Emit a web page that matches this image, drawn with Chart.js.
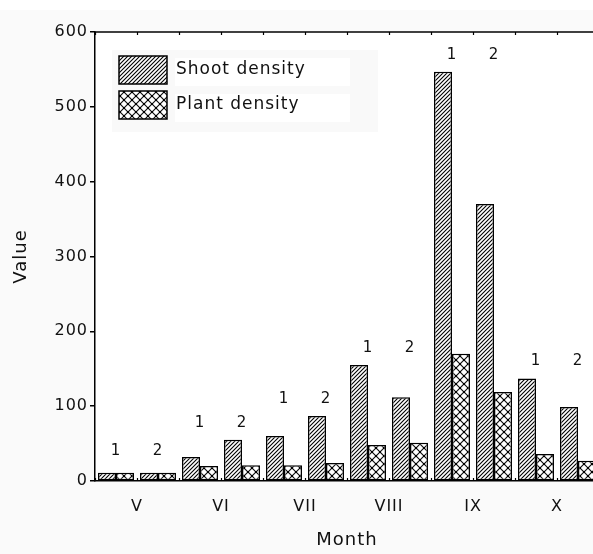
<!DOCTYPE html>
<html><head><meta charset="utf-8">
<script src="https://cdn.jsdelivr.net/npm/chart.js@4"></script>
<style>html,body{margin:0;padding:0;overflow:hidden;background:#fafafa}#wrap{width:610px;height:554px}</style>
</head><body><div id="wrap"><canvas id="c" width="610" height="554"></canvas></div>
<script>
// ---- data ----
const months = ['V','VI','VII','VIII','IX','X'];
const sites = ['1','2'];
const categories = months.flatMap(m => sites.map(s => m + '-' + s));
const shootDensity = [11,11,32,55,60,87,155,112,547,370,137,99];
const plantDensity = [11,11,20,21,21,24,48,51,170,119,36,27];
const seriesNames = ['Shoot density','Plant density'];

const FONT = 'DejaVu Sans';

function diagPattern(){
  const c = document.createElement('canvas'); c.width = 4; c.height = 4;
  const g = c.getContext('2d');
  g.fillStyle = '#fff'; g.fillRect(0,0,4,4);
  g.strokeStyle = '#000'; g.lineWidth = 1.1;
  g.beginPath();
  g.moveTo(-1,5); g.lineTo(5,-1);
  g.moveTo(-1,1); g.lineTo(1,-1);
  g.moveTo(3,5); g.lineTo(5,3);
  g.stroke();
  return g.createPattern(c,'repeat');
}
function crossPattern(){
  const s = 8;
  const c = document.createElement('canvas'); c.width = s; c.height = s;
  const g = c.getContext('2d');
  g.fillStyle = '#fff'; g.fillRect(0,0,s,s);
  g.strokeStyle = '#111'; g.lineWidth = 1.2;
  g.beginPath();
  g.moveTo(0,0); g.lineTo(s,s);
  g.moveTo(s,0); g.lineTo(0,s);
  g.stroke();
  g.fillStyle = '#000';
  g.fillRect(s/2-1,s/2-1,2,2);
  g.fillRect(-1,-1,2,2); g.fillRect(s-1,-1,2,2); g.fillRect(-1,s-1,2,2); g.fillRect(s-1,s-1,2,2);
  return g.createPattern(c,'repeat');
}
const pats = [diagPattern(), crossPattern()];

const decor = {
  id:'decor',
  beforeDraw(chart){
    const {ctx, chartArea:a} = chart;
    ctx.letterSpacing = '1px';
    ctx.save();
    ctx.fillStyle = '#fff';
    ctx.fillRect(0, 0, chart.width, 10);
    ctx.fillRect(a.left, a.top, a.right - a.left, a.bottom - a.top);
    ctx.restore();
  },
  afterDraw(chart){
    const {ctx, chartArea:a} = chart;
    const xs = chart.scales.x, ys = chart.scales.y;
    const cw = xs.width / categories.length;
    ctx.save();
    ctx.letterSpacing = '1px';
    ctx.strokeStyle = '#000'; ctx.lineWidth = 1.5;
    ctx.beginPath(); ctx.moveTo(a.left, a.top); ctx.lineTo(a.right, a.top); ctx.stroke();
    ctx.lineWidth = 1.2;
    for (let i = 0; i <= categories.length; i++){
      const x = Math.round(xs.getPixelForValue(i) - cw/2) + 0.5;
      ctx.beginPath(); ctx.moveTo(x, a.top); ctx.lineTo(x, a.top + 3); ctx.stroke();
      ctx.beginPath(); ctx.moveTo(x, a.bottom); ctx.lineTo(x, a.bottom - 3); ctx.stroke();
    }
    // group labels
    ctx.fillStyle = '#111';
    ctx.font = '15px "' + FONT + '"';
    ctx.textAlign = 'center'; ctx.textBaseline = 'middle';
    for (let m = 0; m < months.length; m++){
      const idx = [2*m, 2*m+1];
      const mx = Math.max(...idx.map(i => Math.max(shootDensity[i], plantDensity[i])));
      const y = Math.min(ys.getPixelForValue(mx) - 17, ys.getPixelForValue(40));
      idx.forEach(i => ctx.fillText(sites[i % 2], xs.getPixelForValue(i), y));
    }
    // legend
    const lx = a.left + 18, ly = a.top + 18;
    ctx.fillStyle = '#f9f9f9';
    ctx.fillRect(a.left + 17, a.top + 18, 266, 82);
    ctx.fillStyle = '#fff';
    ctx.fillRect(a.left + 80, a.top + 26, 175, 28);
    ctx.fillRect(a.left + 80, a.top + 62, 175, 28);
    chart.data.datasets.forEach((ds, k) => {
      const by = ly + 6 + k * 35;
      ctx.fillStyle = ds.backgroundColor;
      ctx.fillRect(lx + 6, by, 48, 28);
      ctx.strokeStyle = '#000'; ctx.lineWidth = 1.5;
      ctx.strokeRect(lx + 6, by, 48, 28);
      ctx.fillStyle = '#111';
      ctx.font = '17px "' + FONT + '"';
      ctx.textAlign = 'left'; ctx.textBaseline = 'middle';
      ctx.fillText(ds.label, lx + 63, by + 14);
    });
    ctx.restore();
  }
};

new Chart(document.getElementById('c'), {
  type:'bar',
  data:{
    labels: categories,
    datasets: seriesNames.map((n, k) => ({
      label: n,
      data: k === 0 ? shootDensity : plantDensity,
      backgroundColor: pats[k],
      borderColor:'#000',
      borderWidth:1.5,
      borderSkipped:false,
      categoryPercentage:0.857,
      barPercentage:1
    }))
  },
  options:{
    responsive:false,
    animation:false,
    events:[],
    layout:{padding:{left:0,right:11,top:32,bottom:0}},
    plugins:{legend:{display:false}, tooltip:{enabled:false}},
    scales:{
      x:{
        type:'category',
        labels: categories,
        position:'bottom',
        offset:true,
        ticks:{display:false},
        grid:{display:false},
        border:{display:true,color:'#000',width:1.5},
        afterFit(s){ s.height = 0; }
      },
      x2:{
        type:'category',
        labels: months,
        position:'bottom',
        offset:true,
        grid:{display:false, drawTicks:false},
        border:{display:false},
        ticks:{color:'#111', font:{family:FONT, size:16}, padding:16, maxRotation:0, autoSkip:false},
        title:{display:true, text:'Month', color:'#111', font:{family:FONT, size:18}, padding:{top:0,bottom:3}},
        afterFit(s){ s.height = 73; }
      },
      y:{
        min:0, max:600,
        ticks:{stepSize:100, color:'#111', font:{family:FONT, size:16}, padding:2},
        grid:{display:true, drawOnChartArea:false, drawTicks:true, tickLength:5, color:'#000', lineWidth:1.5},
        border:{display:true, color:'#000', width:1.5},
        title:{display:true, text:'Value', color:'#111', font:{family:FONT, size:18}, padding:{top:11,bottom:0}},
        afterFit(s){ s.width = 95; }
      }
    }
  },
  plugins:[decor]
});
</script></body></html>
